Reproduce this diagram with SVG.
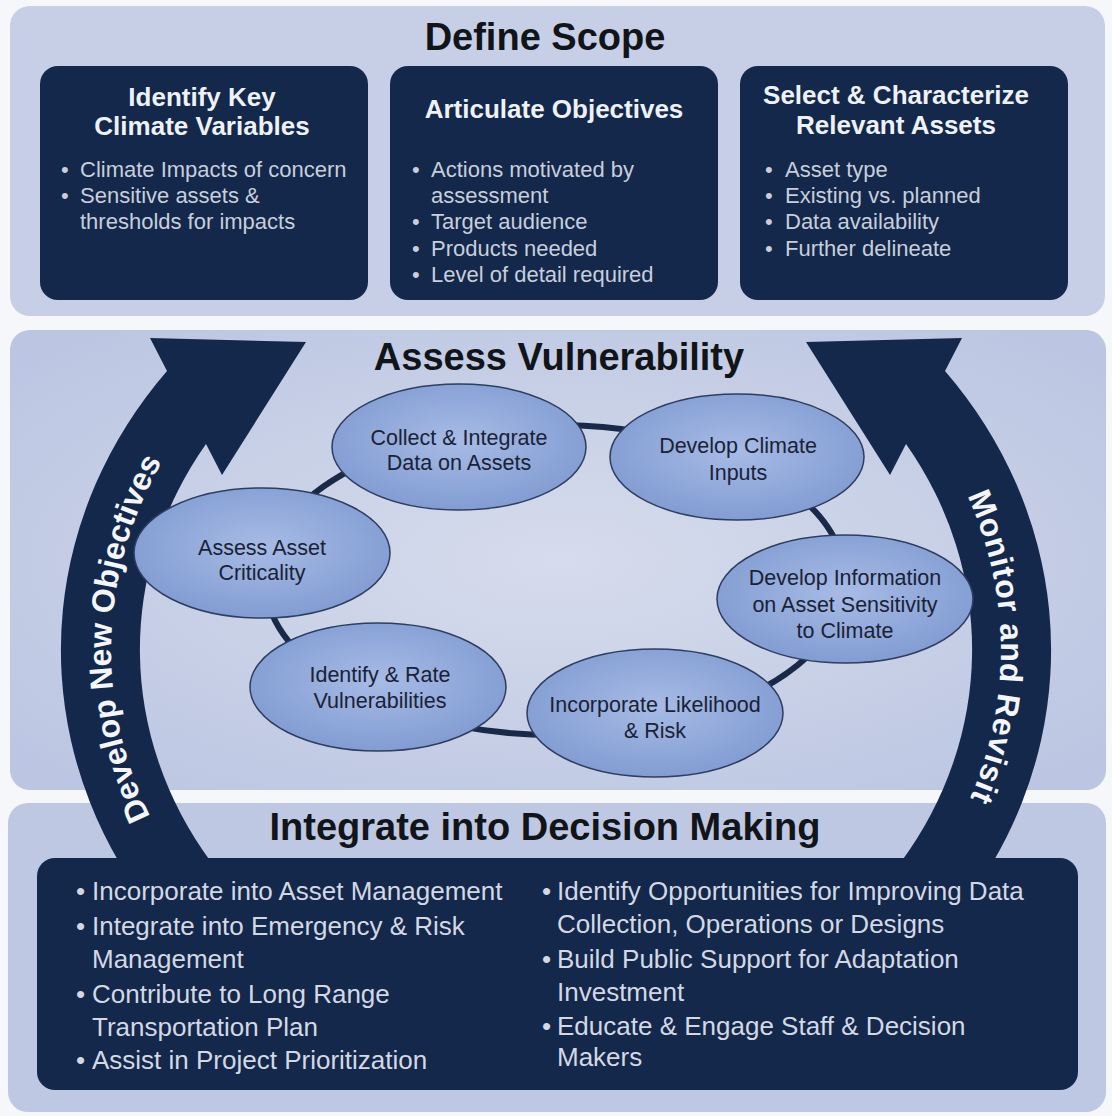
<svg xmlns="http://www.w3.org/2000/svg" width="1112" height="1116" viewBox="0 0 1112 1116">
<style>
text{font-family:"Liberation Sans",Arial,sans-serif}
.panel{fill:#c7cfe6}
.dark{fill:#13284a}
.h1{font-size:38px;font-weight:bold;fill:#111418;text-anchor:middle}
.bt{font-size:26px;font-weight:bold;fill:#eef1f7;text-anchor:middle}
.bl{font-size:22px;fill:#c8cedc}
.bb{font-size:26px;fill:#d3d8e4}
.node{fill:url(#eg);stroke:#2e3d60;stroke-width:1.5}
.nt{font-size:21.5px;fill:#1a2236;text-anchor:middle}
.conn{fill:none;stroke:#1a2948;stroke-width:6}
.arw{font-size:32px;font-weight:bold;fill:#f4f6fb}
</style>
<defs>
<radialGradient id="eg" cx="50%" cy="45%" r="60%">
<stop offset="0" stop-color="#a7bbe5"/>
<stop offset="1" stop-color="#7f9ad1"/>
</radialGradient>
<radialGradient id="mg" cx="50%" cy="50%" r="65%">
<stop offset="0" stop-color="#d6dcec"/>
<stop offset="1" stop-color="#bcc6e2"/>
</radialGradient>
<path id="leftArc" d="M175.5,860 A445,405 0 0 1 190,420"/>
<path id="rightArc" d="M922,420 A445,405 0 0 1 936.5,860"/>
</defs>
<rect width="1112" height="1116" fill="#f6f7fa"/>

<g id="define-scope">
<rect class="panel" x="10" y="6" width="1095" height="310" rx="20"/>
<text class="h1" x="545" y="50">Define Scope</text>
</g>
<g id="identify-key-climate-variables">
<rect class="dark" x="40" y="66" width="328" height="234" rx="18"/>
<text class="bt" x="202" y="106">Identify Key</text>
<text class="bt" x="202" y="135">Climate Variables</text>
<text class="bl" x="61" y="177">•</text><text class="bl" x="80" y="177">Climate Impacts of concern</text>
<text class="bl" x="61" y="203">•</text><text class="bl" x="80" y="203">Sensitive assets &amp;</text>
<text class="bl" x="80" y="229">thresholds for impacts</text>
</g>
<g id="articulate-objectives">
<rect class="dark" x="390" y="66" width="328" height="234" rx="18"/>
<text class="bt" x="554" y="118">Articulate Objectives</text>
<text class="bl" x="412" y="177">•</text><text class="bl" x="431" y="177">Actions motivated by</text>
<text class="bl" x="431" y="203">assessment</text>
<text class="bl" x="412" y="229">•</text><text class="bl" x="431" y="229">Target audience</text>
<text class="bl" x="412" y="256">•</text><text class="bl" x="431" y="256">Products needed</text>
<text class="bl" x="412" y="282">•</text><text class="bl" x="431" y="282">Level of detail required</text>
</g>
<g id="select-characterize-assets">
<rect class="dark" x="740" y="66" width="328" height="234" rx="18"/>
<text class="bt" x="896" y="104">Select &amp; Characterize</text>
<text class="bt" x="896" y="134">Relevant Assets</text>
<text class="bl" x="765" y="177">•</text><text class="bl" x="785" y="177">Asset type</text>
<text class="bl" x="765" y="203">•</text><text class="bl" x="785" y="203">Existing vs. planned</text>
<text class="bl" x="765" y="229">•</text><text class="bl" x="785" y="229">Data availability</text>
<text class="bl" x="765" y="256">•</text><text class="bl" x="785" y="256">Further delineate</text>
</g>

<g id="assess-vulnerability">
<rect x="10" y="330" width="1096" height="460" rx="20" fill="url(#mg)"/>
<text class="h1" x="559" y="370">Assess Vulnerability</text>
</g>

<g id="integrate-decision-making">
<rect x="8" y="803" width="1098" height="309" rx="20" fill="#bfc8e2"/>
<text class="h1" x="545" y="840">Integrate into Decision Making</text>
</g>

<g id="develop-new-objectives">
<path class="dark" d="M119,870 L119,862 A495,451 0 0 1 167,371 L150,338 L306,342 L222,475 L206,444 A416,380 0 0 0 211,862 L211,870 Z"/>
<text class="arw"><textPath href="#leftArc" startOffset="50%" text-anchor="middle">Develop New Objectives</textPath></text>
</g>
<g id="monitor-and-revisit">
<path class="dark" transform="translate(1112,0) scale(-1,1)" d="M119,870 L119,862 A495,451 0 0 1 167,371 L150,338 L306,342 L222,475 L206,444 A416,380 0 0 0 211,862 L211,870 Z"/>
<text class="arw" letter-spacing="0.8"><textPath href="#rightArc" startOffset="52%" text-anchor="middle">Monitor and Revisit</textPath></text>
</g>

<g id="decision-box">
<rect class="dark" x="37" y="858" width="1041" height="232" rx="18"/>
<text class="bb" x="76" y="900">•</text><text class="bb" x="92" y="900">Incorporate into Asset Management</text>
<text class="bb" x="76" y="935">•</text><text class="bb" x="92" y="935">Integrate into Emergency &amp; Risk</text>
<text class="bb" x="92" y="968">Management</text>
<text class="bb" x="76" y="1003">•</text><text class="bb" x="92" y="1003">Contribute to Long Range</text>
<text class="bb" x="92" y="1036">Transportation Plan</text>
<text class="bb" x="76" y="1069">•</text><text class="bb" x="92" y="1069">Assist in Project Prioritization</text>
<text class="bb" x="542" y="900">•</text><text class="bb" x="557" y="900">Identify Opportunities for Improving Data</text>
<text class="bb" x="557" y="933">Collection, Operations or Designs</text>
<text class="bb" x="542" y="968">•</text><text class="bb" x="557" y="968">Build Public Support for Adaptation</text>
<text class="bb" x="557" y="1001">Investment</text>
<text class="bb" x="542" y="1035">•</text><text class="bb" x="557" y="1035">Educate &amp; Engage Staff &amp; Decision</text>
<text class="bb" x="557" y="1066">Makers</text>
</g>

<g id="connectors">
<path class="conn" d="M565,425.1 A290,155 0 0 1 640,431.8"/>
<path class="conn" d="M800,497 A290,155 0 0 1 842,557.8"/>
<path class="conn" d="M835,620.3 A290,155 0 0 1 755,692.2"/>
<path class="conn" d="M560,735 A290,155 0 0 1 460,726.4"/>
<path class="conn" d="M300,653.8 A290,155 0 0 1 267.4,600"/>
<path class="conn" d="M290,517 A290,155 0 0 1 360,465.3"/>
</g>

<g id="collect-integrate-data">
<ellipse class="node" cx="459" cy="447" rx="127" ry="63"/>
<text class="nt" x="459" y="445">Collect &amp; Integrate</text>
<text class="nt" x="459" y="470">Data on Assets</text>
</g>
<g id="develop-climate-inputs">
<ellipse class="node" cx="737" cy="457" rx="127" ry="63"/>
<text class="nt" x="738" y="453">Develop Climate</text>
<text class="nt" x="738" y="480">Inputs</text>
</g>
<g id="develop-information-sensitivity">
<ellipse class="node" cx="845" cy="599" rx="128" ry="64"/>
<text class="nt" x="845" y="585">Develop Information</text>
<text class="nt" x="845" y="612">on Asset Sensitivity</text>
<text class="nt" x="845" y="638">to Climate</text>
</g>
<g id="incorporate-likelihood-risk">
<ellipse class="node" cx="655" cy="713" rx="128" ry="64"/>
<text class="nt" x="655" y="712">Incorporate Likelihood</text>
<text class="nt" x="655" y="738">&amp; Risk</text>
</g>
<g id="identify-rate-vulnerabilities">
<ellipse class="node" cx="378" cy="687" rx="128" ry="64"/>
<text class="nt" x="380" y="682">Identify &amp; Rate</text>
<text class="nt" x="380" y="708">Vulnerabilities</text>
</g>
<g id="assess-asset-criticality">
<ellipse class="node" cx="262" cy="553" rx="128" ry="65"/>
<text class="nt" x="262" y="555">Assess Asset</text>
<text class="nt" x="262" y="580">Criticality</text>
</g>
</svg>
